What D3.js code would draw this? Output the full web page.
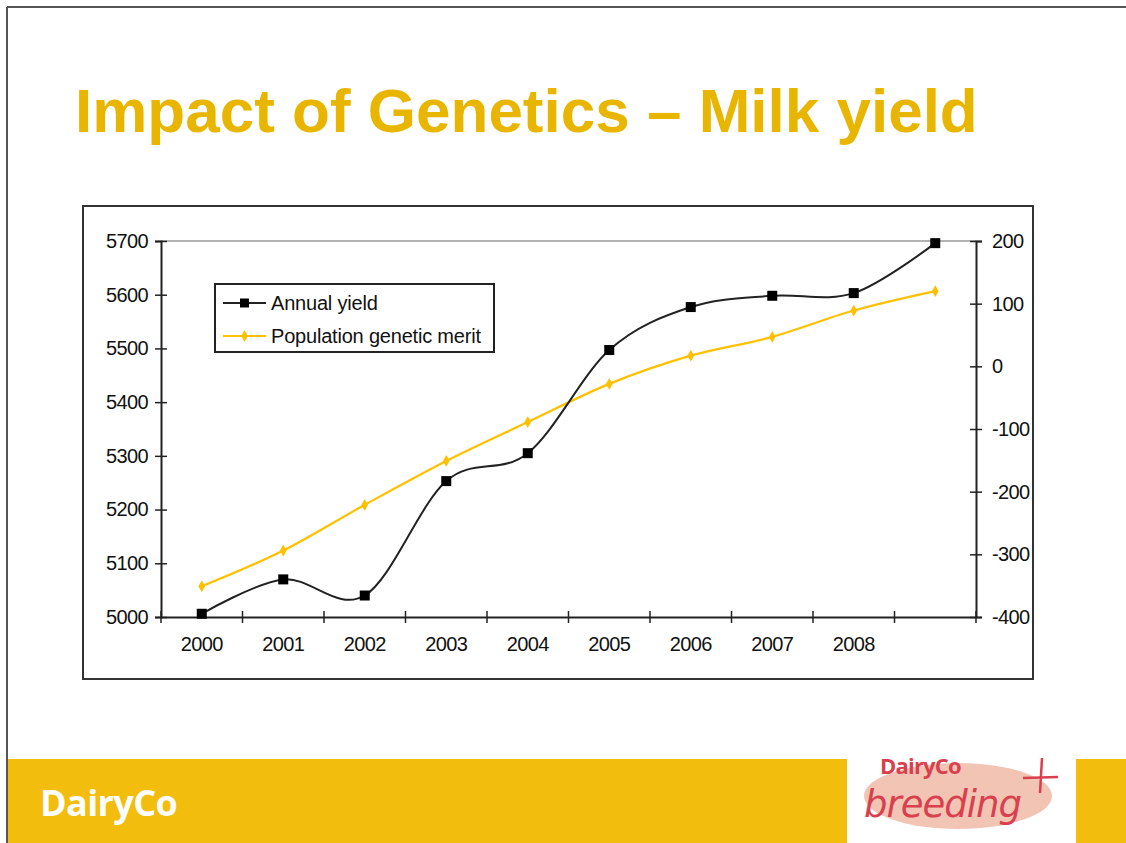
<!DOCTYPE html>
<html>
<head>
<meta charset="utf-8">
<script src="https://cdn.jsdelivr.net/npm/d3@7"></script>
<style>
  html, body { margin: 0; padding: 0; background: #fff; }
  svg { display: block; }
</style>
</head>
<body>
<script>
// ---- Data ----
const years = ["2000","2001","2002","2003","2004","2005","2006","2007","2008","2009"];
const xTickLabels = ["2000","2001","2002","2003","2004","2005","2006","2007","2008",""];
const annualYield = [5006, 5070, 5040, 5253, 5305, 5497, 5577, 5598, 5603, 5696];
const geneticMerit = [-351, -294, -221, -151, -89, -28, 17, 47, 89, 120];
const leftTicks = [5000, 5100, 5200, 5300, 5400, 5500, 5600, 5700];
const rightTicks = [-400, -300, -200, -100, 0, 100, 200];
const seriesNames = ["Annual yield", "Population genetic merit"];
const titleText = "Impact of Genetics \u2013 Milk yield";

const W = 1126, H = 843;
const svg = d3.select("body").append("svg").attr("width", W).attr("height", H);

// slide frame
svg.append("line").attr("x1", 7).attr("x2", W).attr("y1", 7).attr("y2", 7)
  .attr("stroke", "#555").attr("stroke-width", 2);
svg.append("line").attr("x1", 7).attr("x2", 7).attr("y1", 7).attr("y2", H)
  .attr("stroke", "#555").attr("stroke-width", 2);

// title
svg.append("text").attr("x", 75).attr("y", 132)
  .attr("font-family", "Liberation Sans, Arial, sans-serif")
  .attr("font-weight", "bold").attr("font-size", 62)
  .attr("fill", "#E8B600").text(titleText);

// chart box
svg.append("rect").attr("x", 83).attr("y", 206).attr("width", 950).attr("height", 473)
  .attr("fill", "#fff").attr("stroke", "#333").attr("stroke-width", 2);

const plot = { left: 161, right: 976, top: 241, bottom: 617 };
const x = d3.scaleBand().domain(years).range([plot.left, plot.right]);
const yL = d3.scaleLinear().domain([5000, 5700]).range([plot.bottom, plot.top]);
const yR = d3.scaleLinear().domain([-400, 200]).range([plot.bottom, plot.top]);

const fontAx = "Liberation Sans, Arial, sans-serif";
const fmt = d => String(d);

// top gray line
svg.append("line").attr("x1", plot.left).attr("x2", plot.right)
  .attr("y1", yL(5700)).attr("y2", yL(5700)).attr("stroke", "#999").attr("stroke-width", 1.5);

function styleTicks(g) {
  g.selectAll(".tick text").attr("font-family", fontAx).attr("font-size", 20)
    .attr("letter-spacing", -0.6).attr("fill", "#111");
}

// left axis
const gL = svg.append("g").attr("transform", `translate(${plot.left},0)`)
  .call(d3.axisLeft(yL).tickValues(leftTicks).tickFormat(fmt).tickSize(6).tickPadding(7));
gL.select(".domain").attr("stroke", "#222").attr("stroke-width", 2);
gL.selectAll(".tick line").attr("x1", -6).attr("x2", 6).attr("stroke", "#222").attr("stroke-width", 1.5);
styleTicks(gL);

// right axis
const gR = svg.append("g").attr("transform", `translate(${plot.right},0)`)
  .call(d3.axisRight(yR).tickValues(rightTicks).tickFormat(fmt).tickSize(6).tickPadding(10));
gR.select(".domain").attr("stroke", "#222").attr("stroke-width", 2);
gR.selectAll(".tick line").attr("x1", -6).attr("x2", 6).attr("stroke", "#222").attr("stroke-width", 1.5);
styleTicks(gR);

// bottom axis (labels centered in band, ticks at boundaries)
const gB = svg.append("g").attr("transform", `translate(0,${plot.bottom})`)
  .call(d3.axisBottom(x).tickSize(0).tickPadding(20).tickFormat((d, i) => xTickLabels[i]));
gB.select(".domain").attr("stroke", "#222").attr("stroke-width", 2);
styleTicks(gB);
const bounds = years.map(d => x(d)).concat([x.range()[1]]);
gB.selectAll(".bt").data(bounds).enter().append("line")
  .attr("x1", d => d).attr("x2", d => d).attr("y1", -6).attr("y2", 6)
  .attr("stroke", "#222").attr("stroke-width", 1.5);

const cx = d => x(d) + x.bandwidth() / 2;
const curve = d3.curveCardinal.tension(0);

// genetic merit line
const yellow = "#FFC000";
svg.append("path").datum(geneticMerit)
  .attr("d", d3.line().x((d, i) => cx(years[i])).y(d => yR(d)).curve(curve))
  .attr("fill", "none").attr("stroke", yellow).attr("stroke-width", 2.2);
const diamond = d3.symbol().type(d3.symbolDiamond).size(40);
svg.selectAll(".gm").data(geneticMerit).enter().append("path")
  .attr("d", diamond).attr("transform", (d, i) => `translate(${cx(years[i])},${yR(d)})`)
  .attr("fill", yellow);

// annual yield line
svg.append("path").datum(annualYield)
  .attr("d", d3.line().x((d, i) => cx(years[i])).y(d => yL(d)).curve(curve))
  .attr("fill", "none").attr("stroke", "#222").attr("stroke-width", 2);
svg.selectAll(".ay").data(annualYield).enter().append("rect")
  .attr("x", (d, i) => cx(years[i]) - 5).attr("y", d => yL(d) - 5)
  .attr("width", 10).attr("height", 10).attr("fill", "#000");

// legend
const lg = svg.append("g");
lg.append("rect").attr("x", 215).attr("y", 284).attr("width", 279).attr("height", 68)
  .attr("fill", "#fff").attr("stroke", "#222").attr("stroke-width", 2);
const rows = [303, 336];
lg.append("line").attr("x1", 223).attr("x2", 266).attr("y1", rows[0]).attr("y2", rows[0])
  .attr("stroke", "#222").attr("stroke-width", 2);
lg.append("rect").attr("x", 240).attr("y", rows[0] - 4.5).attr("width", 9).attr("height", 9).attr("fill", "#000");
lg.append("line").attr("x1", 223).attr("x2", 266).attr("y1", rows[1]).attr("y2", rows[1])
  .attr("stroke", yellow).attr("stroke-width", 2.2);
lg.append("path").attr("d", diamond).attr("transform", `translate(244.5,${rows[1]})`).attr("fill", yellow);
lg.selectAll(".lt").data(seriesNames).enter().append("text")
  .attr("x", 271).attr("y", (d, i) => rows[i] + 7)
  .attr("font-family", fontAx).attr("font-size", 20).attr("letter-spacing", -0.2)
  .attr("fill", "#111").text(d => d);

// footer
const footY = "#F2BD0C";
svg.append("rect").attr("x", 8).attr("y", 759).attr("width", 839).attr("height", H - 759).attr("fill", footY);
svg.append("rect").attr("x", 1076).attr("y", 759).attr("width", W - 1076).attr("height", H - 759).attr("fill", footY);
svg.append("text").attr("x", 40).attr("y", 816)
  .attr("font-family", "Open Sans, Liberation Sans, sans-serif").attr("font-weight", "bold")
  .attr("font-size", 36).attr("letter-spacing", -0.6).attr("fill", "#fff").text("DairyCo");

// breeding logo
svg.append("ellipse").attr("cx", 958).attr("cy", 796).attr("rx", 94).attr("ry", 33)
  .attr("fill", "#F1C4B4");
const red = "#D9404E";
svg.append("text").attr("x", 880).attr("y", 774)
  .attr("font-family", "Open Sans, Liberation Sans, sans-serif").attr("font-weight", "bold")
  .attr("font-size", 22).attr("letter-spacing", -0.8).attr("fill", red).text("DairyCo");
svg.append("text").attr("x", 864).attr("y", 817)
  .attr("font-family", "DejaVu Sans, sans-serif").attr("font-style", "italic")
  .attr("font-size", 37).attr("letter-spacing", -1).attr("fill", red).text("breeding");
svg.append("line").attr("x1", 1042).attr("x2", 1040).attr("y1", 758).attr("y2", 793)
  .attr("stroke", red).attr("stroke-width", 2.5);
svg.append("line").attr("x1", 1023).attr("x2", 1058).attr("y1", 778).attr("y2", 777)
  .attr("stroke", red).attr("stroke-width", 2.5);
</script>
</body>
</html>
